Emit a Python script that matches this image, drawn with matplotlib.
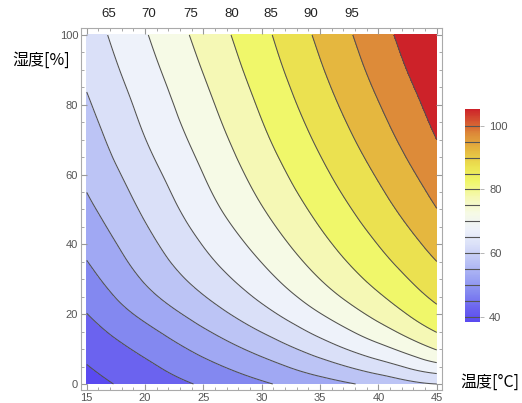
import numpy as np
import matplotlib
matplotlib.use('Agg')
import matplotlib.pyplot as plt
import matplotlib.tri as mtri
from matplotlib.colors import LinearSegmentedColormap, Normalize
from matplotlib.cm import ScalarMappable

plt.rcParams['font.family'] = ['Liberation Sans', 'Noto Sans CJK JP', 'DejaVu Sans']

# grid: temperature [degC] x humidity [%]
temps = [15, 20, 25, 30, 35, 40, 45]
hums = [0, 10, 20, 30, 40, 50, 60, 70, 80, 90, 100]
# one row per temperature, values along humidity
index_t15 = [38.3, 41.4, 44.9, 48.3, 51.3, 53.9, 56.0, 57.7, 59.4, 61.0, 62.4]
index_t20 = [42.0, 46.2, 51.2, 55.5, 58.4, 60.8, 62.9, 64.9, 66.5, 68.1, 69.6]
index_t25 = [45.6, 51.4, 57.2, 61.9, 65.2, 67.9, 70.0, 71.9, 73.6, 75.2, 76.7]
index_t30 = [49.3, 56.6, 63.3, 68.2, 71.8, 74.7, 77.0, 79.0, 80.7, 82.3, 83.7]
index_t35 = [52.9, 62.3, 69.8, 75.0, 78.6, 81.4, 83.8, 85.9, 87.8, 89.5, 91.0]
index_t40 = [56.4, 68.3, 76.5, 81.6, 85.1, 88.0, 90.5, 92.8, 94.8, 96.6, 98.1]
index_t45 = [60.0, 75.3, 83.5, 88.1, 91.7, 94.9, 97.5, 100.0, 101.8, 103.6, 105.3]

contour_levels = [40, 45, 50, 55, 60, 65, 70, 75, 80, 85, 90, 95, 100]
band_colors = ['#5a4af0', '#6b63ef', '#8388f0', '#a0a8f3', '#bcc4f5', '#dae0f8',
               '#eef2fa', '#f6fae6', '#f5f8b5', '#f0f76a', '#ebe150', '#e5b73f',
               '#dd8b39', '#cd2229']

# labels on top edge where the contours leave the plot
top_pos = [16.9, 20.3, 23.9, 27.4, 30.8, 34.2, 37.7]
top_vals = [65, 70, 75, 80, 85, 90, 95]

Z = np.array([index_t15, index_t20, index_t25, index_t30,
              index_t35, index_t40, index_t45])
TT, HH = np.meshgrid(temps, hums, indexing='ij')
zmin, zmax = Z.min(), Z.max()
levels = [zmin] + contour_levels + [zmax]

tri = mtri.Triangulation(TT.ravel(), HH.ravel())
interp = mtri.CubicTriInterpolator(tri, Z.ravel(), kind='min_E')
refiner = mtri.UniformTriRefiner(tri)
tri_f, z_f = refiner.refine_field(Z.ravel(), triinterpolator=interp, subdiv=4)

fig = plt.figure(figsize=(5.22, 4.03), dpi=100)
ax = fig.add_axes([81/522, 13/403, 361/522, 362/403])

ax.tricontourf(tri_f, z_f, levels=levels, colors=band_colors)
ax.tricontour(tri_f, z_f, levels=contour_levels, colors='#505050', linewidths=0.75)

ax.set_xlim(14.51, 45.45)
ax.set_ylim(-1.72, 102.0)
ax.set_xticks(range(15, 46, 5))
ax.set_xticks(range(15, 46), minor=True)
ax.set_yticks(range(0, 101, 20))
ax.set_yticks(range(0, 101, 5), minor=True)
ax.tick_params(which='both', direction='in', color='#999999', labelcolor='#555555',
               labelsize=8, top=True, right=True, pad=2)
ax.tick_params(which='major', length=4)
ax.tick_params(which='minor', length=2)
for s in ax.spines.values():
    s.set_color('#aaaaaa')
    s.set_linewidth(0.8)

for p, v in zip(top_pos, top_vals):
    ax.text(p, 1.04, str(v), transform=ax.get_xaxis_transform(),
            ha='center', va='center', fontsize=9.5, color='#222222')

fig.text(12/522, 1 - 60/403, '湿度[%]', fontsize=11.5, ha='left', va='center',
         family=['Noto Sans CJK JP', 'DejaVu Sans'])
fig.text(460/522, 1 - 382/403, '温度[°C]', fontsize=11.5, ha='left', va='center',
         family=['Noto Sans CJK JP', 'DejaVu Sans'])

# legend bar
mids = [(levels[i] + levels[i+1]) / 2 for i in range(len(levels) - 1)]
stops = [(m - zmin) / (zmax - zmin) for m in mids]
stops[0], stops[-1] = 0.0, 1.0
cmap = LinearSegmentedColormap.from_list('temp', list(zip(stops, band_colors)))
cax = fig.add_axes([465/522, 1 - 322/403, 15/522, 213/403])
cb = fig.colorbar(ScalarMappable(norm=Normalize(zmin, zmax), cmap=cmap), cax=cax)
cb.outline.set_visible(False)
cb.set_ticks([40, 60, 80, 100])
for lv in contour_levels:
    cax.axhline(lv, color='#555555', lw=0.8)
cax.tick_params(length=3, color='#aaaaaa', labelcolor='#555555', labelsize=8, width=0.6)

fig.savefig('out.png', dpi=100)
